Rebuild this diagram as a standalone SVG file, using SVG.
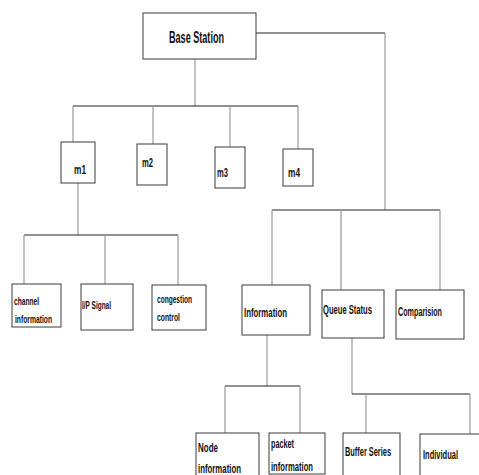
<svg xmlns="http://www.w3.org/2000/svg" width="479" height="475" viewBox="0 0 479 475">
<style>
.box{fill:#fff;stroke:#3a3a3a;stroke-width:1}
.v{stroke:#9a9a9a;stroke-width:1.2;fill:none}
.h{stroke:#222;stroke-width:1.2;fill:none}
text{font-family:"Liberation Sans",Arial,sans-serif;font-weight:bold;fill:#111;font-size:11px}
.big{font-size:16px}
.m{font-size:12px}
</style>
<rect width="479" height="475" fill="#fff"/>
<g id="connectors">
<path class="h" d="M256 33H385"/><path class="v" d="M385 33V210"/>
<path class="h" d="M272 210H440"/>
<path class="v" d="M272 210V285M341 210V290M440 210V290"/>
<path class="v" d="M195 59V106"/>
<path class="h" d="M73 106H298"/>
<path class="v" d="M73 106V142M153 106V144M230 106V147M298 106V149"/>
<path class="v" d="M78 183V235"/>
<path class="h" d="M24 235H178"/>
<path class="v" d="M24 235V284M105 235V284M178 235V285"/>
<path class="v" d="M267 335V386"/>
<path class="h" d="M225 386H300"/>
<path class="v" d="M225 386V433M300 386V433"/>
<path class="v" d="M352 338V394"/>
<path class="h" d="M352 394H470"/>
<path class="v" d="M366 394V433M470 394V434"/>
</g>
<g id="base-station"><rect class="box" x="143" y="13" width="113" height="46"/><text class="big" x="169" y="43" textLength="55" lengthAdjust="spacingAndGlyphs">Base Station</text></g>
<g id="m1"><rect class="box" x="61" y="142" width="34" height="41"/><text class="m" x="74" y="174" textLength="12" lengthAdjust="spacingAndGlyphs">m1</text></g>
<g id="m2"><rect class="box" x="137" y="144" width="30" height="41"/><text class="m" x="142" y="167" textLength="11" lengthAdjust="spacingAndGlyphs">m2</text></g>
<g id="m3"><rect class="box" x="215" y="147" width="30" height="41"/><text class="m" x="217" y="177" textLength="11" lengthAdjust="spacingAndGlyphs">m3</text></g>
<g id="m4"><rect class="box" x="283" y="149" width="30" height="37"/><text class="m" x="288" y="177" textLength="12" lengthAdjust="spacingAndGlyphs">m4</text></g>
<g id="channel-information"><rect class="box" x="12" y="284" width="49" height="43"/><text x="14" y="305" textLength="25" lengthAdjust="spacingAndGlyphs">channel</text><text x="15" y="323" textLength="37" lengthAdjust="spacingAndGlyphs">information</text></g>
<g id="ip-signal"><rect class="box" x="81" y="284" width="52" height="46"/><text x="82" y="309" textLength="29" lengthAdjust="spacingAndGlyphs">I/P Signal</text></g>
<g id="congestion-control"><rect class="box" x="152" y="285" width="54" height="45"/><text x="157" y="303" textLength="35" lengthAdjust="spacingAndGlyphs">congestion</text><text x="157" y="321" textLength="23" lengthAdjust="spacingAndGlyphs">control</text></g>
<g id="information"><rect class="box" x="242" y="285" width="68" height="50"/><text class="m" x="244" y="317" textLength="43" lengthAdjust="spacingAndGlyphs">Information</text></g>
<g id="queue-status"><rect class="box" x="322" y="290" width="62" height="48"/><text class="m" x="323" y="314" textLength="49" lengthAdjust="spacingAndGlyphs">Queue Status</text></g>
<g id="comparision"><rect class="box" x="396" y="290" width="68" height="49"/><text class="m" x="398" y="316" textLength="44" lengthAdjust="spacingAndGlyphs">Comparision</text></g>
<g id="node-information"><rect class="box" x="196" y="433" width="63" height="50"/><text class="m" x="198" y="452" textLength="20" lengthAdjust="spacingAndGlyphs">Node</text><text class="m" x="198" y="473" textLength="43" lengthAdjust="spacingAndGlyphs">information</text></g>
<g id="packet-information"><rect class="box" x="269" y="433" width="56" height="41"/><text class="m" x="271" y="448" textLength="23" lengthAdjust="spacingAndGlyphs">packet</text><text class="m" x="271" y="471" textLength="42" lengthAdjust="spacingAndGlyphs">information</text></g>
<g id="buffer-series"><rect class="box" x="343" y="433" width="57" height="50"/><text class="m" x="345" y="456" textLength="46" lengthAdjust="spacingAndGlyphs">Buffer Series</text></g>
<g id="individual"><rect class="box" x="420" y="434" width="70" height="50"/><text class="m" x="423" y="459" textLength="35" lengthAdjust="spacingAndGlyphs">Individual</text></g>
</svg>
